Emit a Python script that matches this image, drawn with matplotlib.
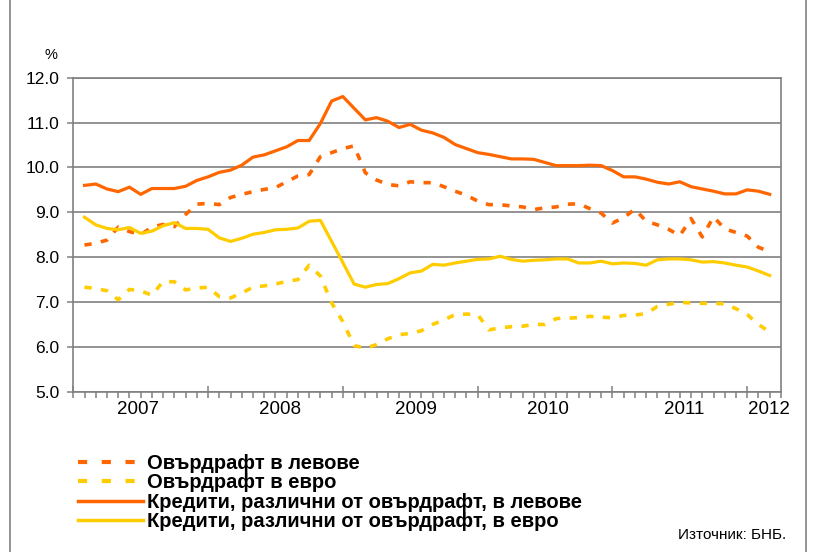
import matplotlib.pyplot as plt
from matplotlib.lines import Line2D
from matplotlib.patches import Rectangle

# -------------------------
# DATA (monthly, Jan 2007 - Feb 2012), %
# -------------------------
overdraft_bgn = [8.27, 8.31, 8.38, 8.67, 8.57, 8.50, 8.67, 8.73, 8.68, 8.95,
                 9.18, 9.20, 9.17, 9.33, 9.40, 9.46, 9.51, 9.55, 9.68, 9.81,
                 9.84, 10.24, 10.33, 10.42, 10.48, 9.88, 9.72, 9.62, 9.59, 9.68,
                 9.66, 9.66, 9.57, 9.47, 9.38, 9.25, 9.17, 9.17, 9.14, 9.12,
                 9.06, 9.10, 9.12, 9.18, 9.19, 9.08, 8.98, 8.76, 8.88, 9.07,
                 8.80, 8.72, 8.62, 8.48, 8.86, 8.45, 8.90, 8.63, 8.55, 8.47,
                 8.22, 8.12]
overdraft_eur = [7.33, 7.30, 7.25, 7.05, 7.28, 7.25, 7.15, 7.46, 7.45, 7.27,
                 7.31, 7.33, 7.12, 7.09, 7.20, 7.33, 7.36, 7.40, 7.46, 7.50,
                 7.82, 7.58, 6.98, 6.56, 6.03, 5.97, 6.05, 6.18, 6.27, 6.30,
                 6.36, 6.50, 6.60, 6.72, 6.73, 6.72, 6.38, 6.42, 6.45, 6.46,
                 6.50, 6.50, 6.63, 6.64, 6.65, 6.68, 6.66, 6.65, 6.70, 6.71,
                 6.74, 6.90, 6.95, 6.99, 6.98, 6.97, 6.97, 6.96, 6.85, 6.72,
                 6.50, 6.33]
loans_bgn = [9.60, 9.63, 9.52, 9.46, 9.56, 9.40, 9.53, 9.53, 9.53, 9.58,
             9.71, 9.79, 9.89, 9.94, 10.05, 10.23, 10.28, 10.37, 10.46, 10.60,
             10.60, 10.98, 11.48, 11.58, 11.32, 11.06, 11.11, 11.03, 10.89, 10.96,
             10.83, 10.77, 10.67, 10.51, 10.42, 10.33, 10.29, 10.24, 10.19, 10.19,
             10.18, 10.11, 10.04, 10.04, 10.04, 10.05, 10.04, 9.93, 9.79, 9.79,
             9.74, 9.67, 9.63, 9.68, 9.57, 9.52, 9.47, 9.41, 9.41, 9.50,
             9.47, 9.40]
loans_eur = [8.89, 8.72, 8.64, 8.61, 8.66, 8.53, 8.58, 8.70, 8.77, 8.64,
             8.64, 8.62, 8.43, 8.35, 8.42, 8.51, 8.55, 8.61, 8.62, 8.65,
             8.80, 8.82, 8.35, 7.88, 7.40, 7.33, 7.39, 7.41, 7.52, 7.65,
             7.69, 7.84, 7.82, 7.87, 7.91, 7.95, 7.96, 8.02, 7.95, 7.91,
             7.93, 7.94, 7.96, 7.96, 7.87, 7.87, 7.91, 7.85, 7.87, 7.86,
             7.82, 7.94, 7.96, 7.96, 7.94, 7.89, 7.90, 7.87, 7.82, 7.78,
             7.69, 7.59]

years = ["2007", "2008", "2009", "2010", "2011", "2012"]
year_pos = [5.8, 18.4, 30.5, 42.3, 54.4, 61.9]

labels = ["Овърдрафт в левове", "Овърдрафт в евро",
          "Кредити, различни от овърдрафт, в левове",
          "Кредити, различни от овърдрафт, в евро"]

ORANGE = "#FF6600"
YELLOW = "#FFCC00"
GRID = "#808080"

plt.rcParams['font.family'] = ['Liberation Sans', 'DejaVu Sans']

fig = plt.figure(figsize=(8.16, 5.52), dpi=100)
ax = fig.add_axes([0.0898, 0.2904, 0.8672, 0.5688])

months = range(1, len(loans_bgn) + 1)
dash = (2.0, 2.6)
ax.plot(months, overdraft_bgn, color=ORANGE, lw=2.6, dashes=dash, zorder=3)
ax.plot(months, overdraft_eur, color=YELLOW, lw=2.6, dashes=dash, zorder=3)
ax.plot(months, loans_bgn, color=ORANGE, lw=2.3, zorder=4)
ax.plot(months, loans_eur, color=YELLOW, lw=2.3, zorder=4)

ax.set_xlim(0, 63)
ax.set_ylim(5, 12)
ax.set_yticks(range(5, 13))
ax.set_yticklabels([f"{v:.1f}" for v in range(5, 13)], fontsize=12.5)
ax.yaxis.grid(True, color=GRID, lw=1.2)
ax.set_axisbelow(True)

ax.set_xticks(range(0, 61, 12))
ax.set_xticklabels([])
ax.set_xticks(range(0, 64), minor=True)
ax.tick_params(axis='x', which='major', direction='inout', length=9, width=1.1, color=GRID)
ax.tick_params(axis='x', which='minor', direction='out', length=4, width=1.1, color=GRID)
ax.tick_params(axis='y', direction='out', length=4, width=1.1, color=GRID, pad=6)
for s in ax.spines.values():
    s.set_color(GRID)
    s.set_linewidth(1.2)

for y, p in zip(years, year_pos):
    ax.text(p, -0.058, y, transform=ax.get_xaxis_transform(), ha='center', va='center',
            fontsize=13.5)

fig.text(0.062, 0.9, "%", fontsize=10.5, ha='center', va='center')

# outer frame
fig.patches.append(Rectangle((0.0123, -0.01), 0.975, 1.02, transform=fig.transFigure,
                             fill=False, edgecolor=GRID, lw=1.2))

handles = [Line2D([], [], color=ORANGE, lw=3, dashes=(2.2, 3.5)),
           Line2D([], [], color=YELLOW, lw=3, dashes=(2.2, 3.5)),
           Line2D([], [], color=ORANGE, lw=2.5),
           Line2D([], [], color=YELLOW, lw=2.5)]
leg = fig.legend(handles, labels, loc='upper left', bbox_to_anchor=(0.0955, 0.178),
                 frameon=False, handlelength=3.25, handletextpad=0.2, labelspacing=0.02,
                 borderpad=0, borderaxespad=0,
                 prop={'weight': 'bold', 'size': 14.5})

fig.text(0.964, 0.03, "Източник: БНБ.", fontsize=11, ha='right', va='center')

fig.savefig("out.png", dpi=100)
